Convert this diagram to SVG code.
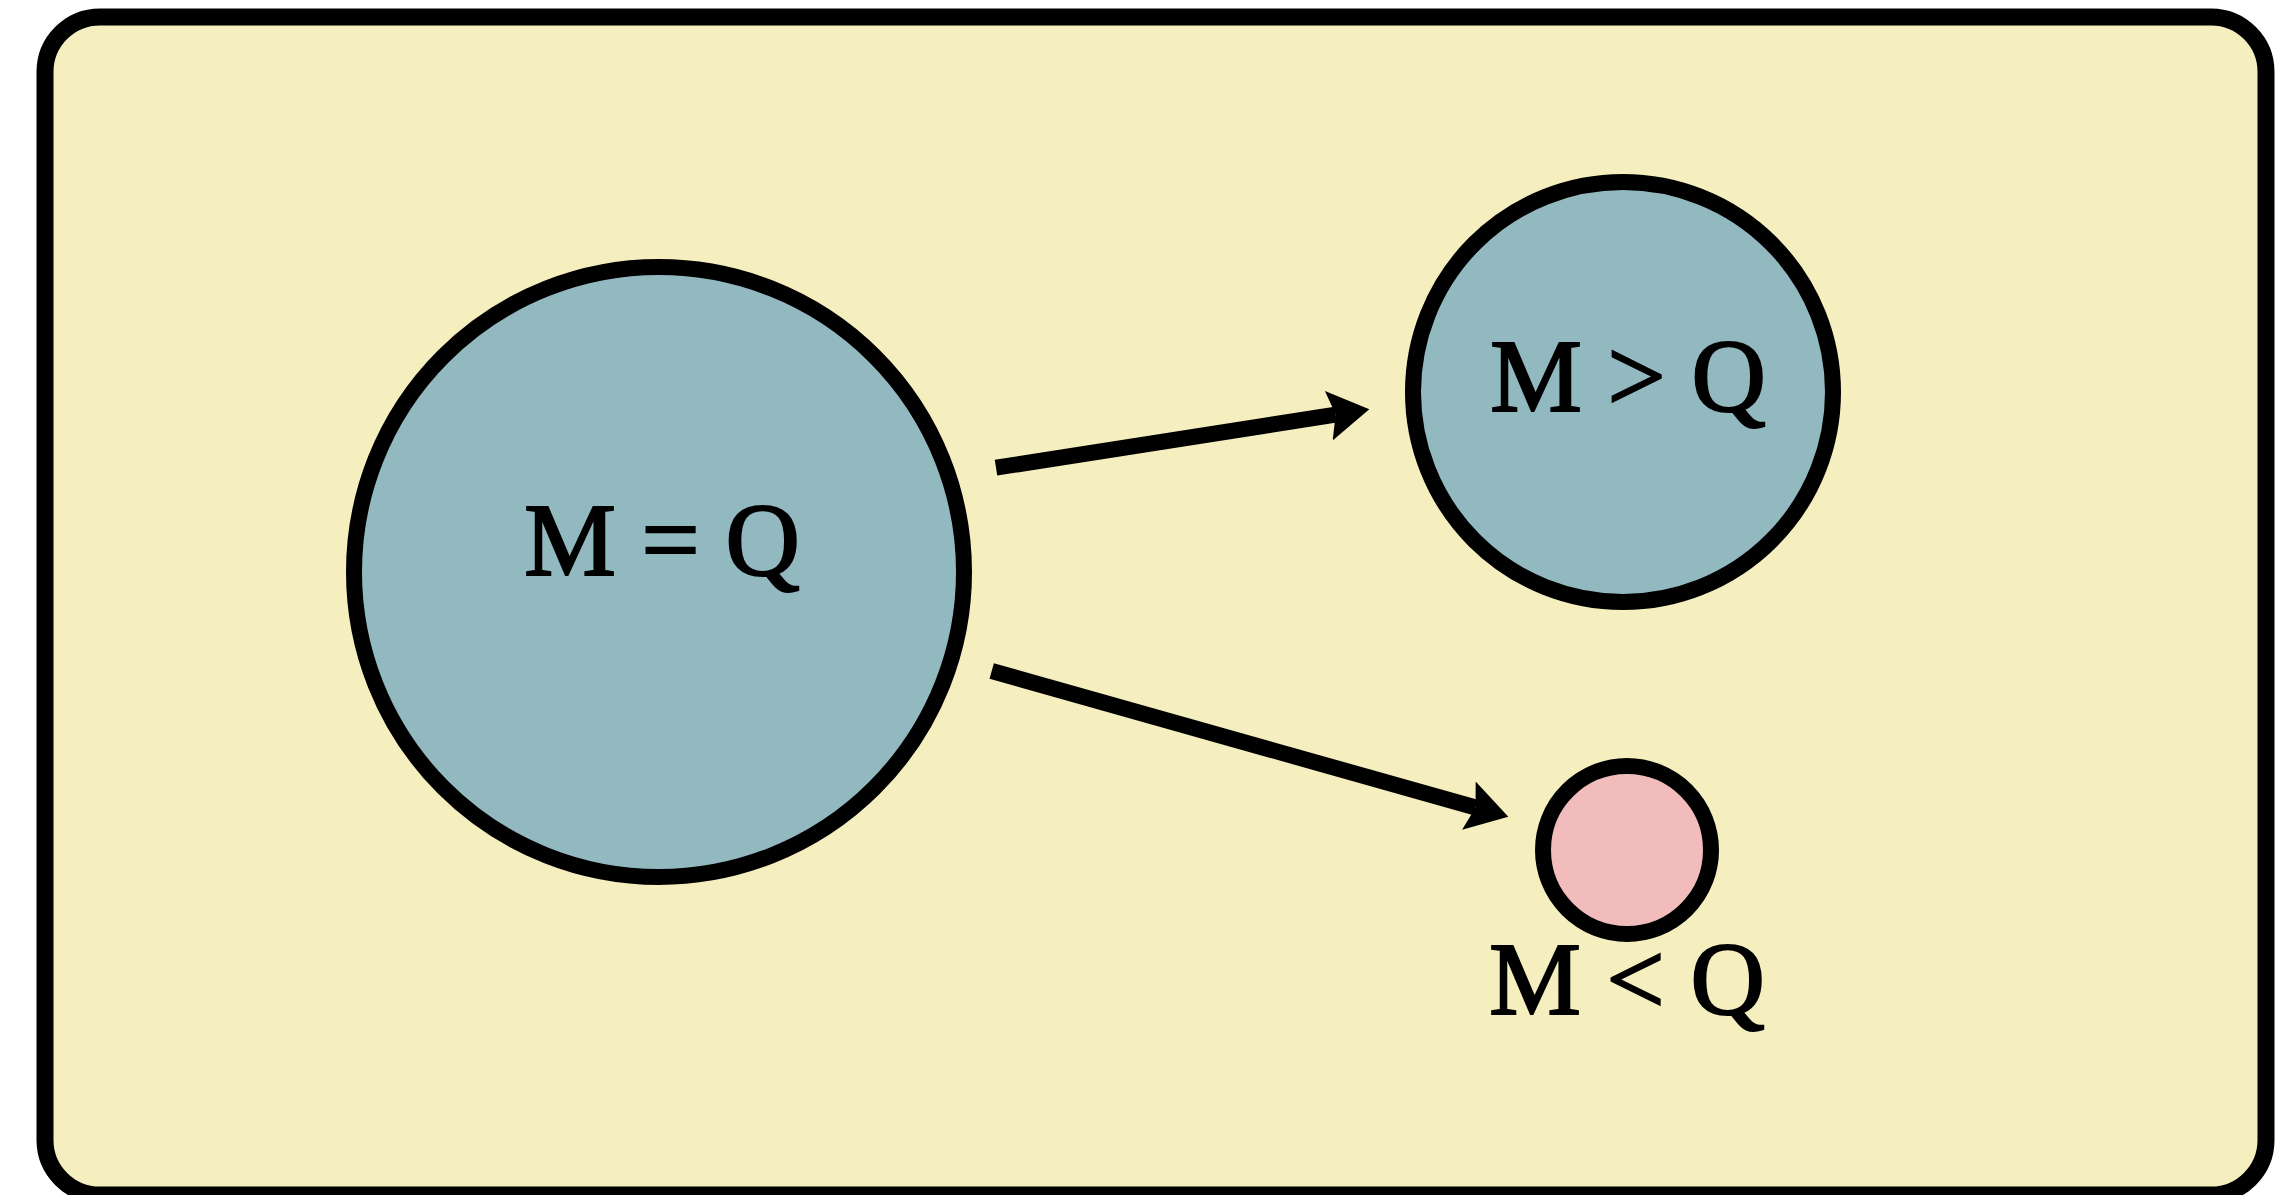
<svg xmlns="http://www.w3.org/2000/svg" width="2291" height="1195" viewBox="0 0 2291 1195">
<style>
.frame{fill:#F5EEBE;stroke:#000;stroke-width:17}
.big{fill:#93B9C0;stroke:#000;stroke-width:16}
.small{fill:#F2BCBC;stroke:#000;stroke-width:16}
.lbl{font-family:"Liberation Serif","Times New Roman",serif;font-size:103px;fill:#000;stroke:#000;stroke-width:2.2;text-anchor:middle}
.conn{fill:none;stroke:#000;stroke-width:16;stroke-linecap:butt}
</style>
<defs>
<marker id="arrow" markerUnits="userSpaceOnUse" viewBox="0 -26 42 52" refX="7" refY="0" markerWidth="42" markerHeight="52" orient="auto">
<path d="M0,-25 L41,0 L0,25 L7,0 Z" fill="#000"/>
</marker>
</defs>
<rect width="2291" height="1195" fill="#fff"/>
<rect id="frame" class="frame" x="45" y="17" width="2221" height="1178" rx="55" ry="55"/>
<g id="node-eq">
<circle class="big" cx="659" cy="572" r="305"/>
<text class="lbl" x="662" y="575">M = Q</text>
</g>
<g id="node-gt">
<circle class="big" cx="1623" cy="392" r="210"/>
<text class="lbl" x="1628" y="411">M &gt; Q</text>
</g>
<g id="node-lt">
<circle class="small" cx="1627" cy="850" r="84"/>
<text class="lbl" x="1627" y="1014">M &lt; Q</text>
</g>
<g id="connectors">
<path class="conn" d="M996,467.7 L1335.7,414.6" marker-end="url(#arrow)"/>
<path class="conn" d="M991.7,671 L1475.6,807.5" marker-end="url(#arrow)"/>
</g>
</svg>
